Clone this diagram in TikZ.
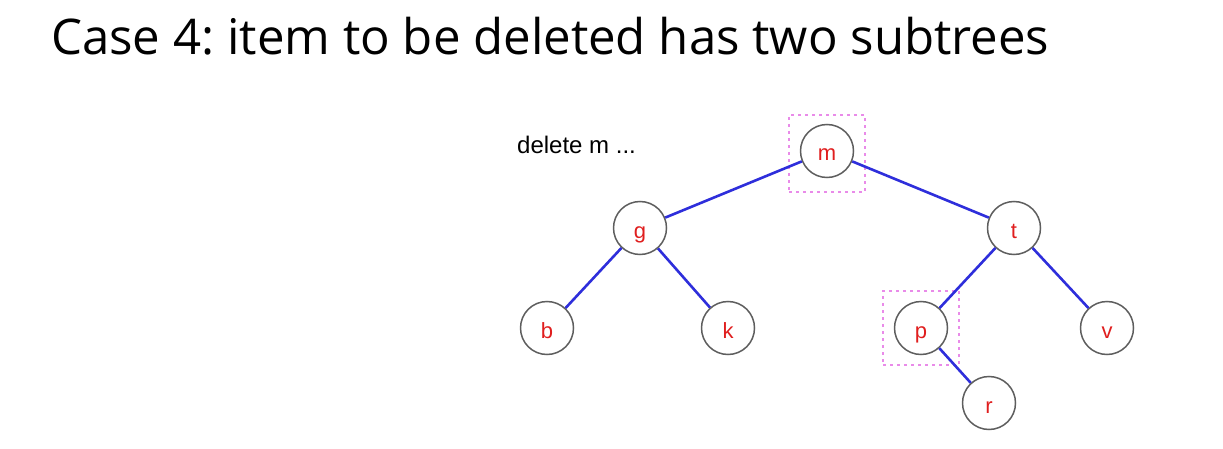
\documentclass[tikz,border=0pt]{standalone}
\usepackage{fontspec}
\setmainfont{Open Sans}
\newfontfamily\arialfont{Liberation Sans}
\definecolor{edgeblue}{HTML}{2E2EDB}
\definecolor{labred}{HTML}{E01E1E}
\definecolor{boxpink}{HTML}{E98BE9}
\definecolor{ringgray}{HTML}{5E5E5E}
\frenchspacing
\newcommand{\nodelab}[1]{\raisebox{-10pt}[0pt][0pt]{#1}}
\begin{document}
\begin{tikzpicture}[x=1pt,y=-1pt,
  treenode/.style={circle,draw=ringgray,line width=1.5pt,fill=white,minimum size=53pt,inner sep=0pt,
    font=\arialfont\fontsize{22}{22}\selectfont,text=labred},
  treeedge/.style={draw=edgeblue,line width=2.6pt},
  markbox/.style={draw=boxpink,line width=2.6pt,dash pattern=on 2.6pt off 4.4pt}]
\useasboundingbox (0,0) rectangle (1223,449);
\node[anchor=base west,inner sep=0pt] (title) at (51,55) {\resizebox{998pt}{!}{Case 4: item to be deleted has two subtrees}};
\node[anchor=base west,inner sep=0pt,font=\arialfont\fontsize{24}{24}\selectfont] (lbl) at (517,154) {delete m ...};
\node[markbox,minimum width=76pt,minimum height=77pt,inner sep=0pt] (boxm) at (827,153.5) {};
\node[markbox,minimum width=76pt,minimum height=74pt,inner sep=0pt] (boxp) at (921,328) {};
\node[treenode] (m) at (827,151) {\nodelab{m}};
\node[treenode] (g) at (640,228) {\nodelab{g}};
\node[treenode] (t) at (1014,228) {\nodelab{t}};
\node[treenode] (b) at (547,328) {\nodelab{b}};
\node[treenode] (k) at (728,328) {\nodelab{k}};
\node[treenode] (p) at (921,328) {\nodelab{p}};
\node[treenode] (v) at (1107,328) {\nodelab{v}};
\node[treenode] (r) at (989,403) {\nodelab{r}};
\draw[treeedge] (m) -- (g);
\draw[treeedge] (m) -- (t);
\draw[treeedge] (g) -- (b);
\draw[treeedge] (g) -- (k);
\draw[treeedge] (t) -- (p);
\draw[treeedge] (t) -- (v);
\draw[treeedge] (p) -- (r);
\end{tikzpicture}
\end{document}
